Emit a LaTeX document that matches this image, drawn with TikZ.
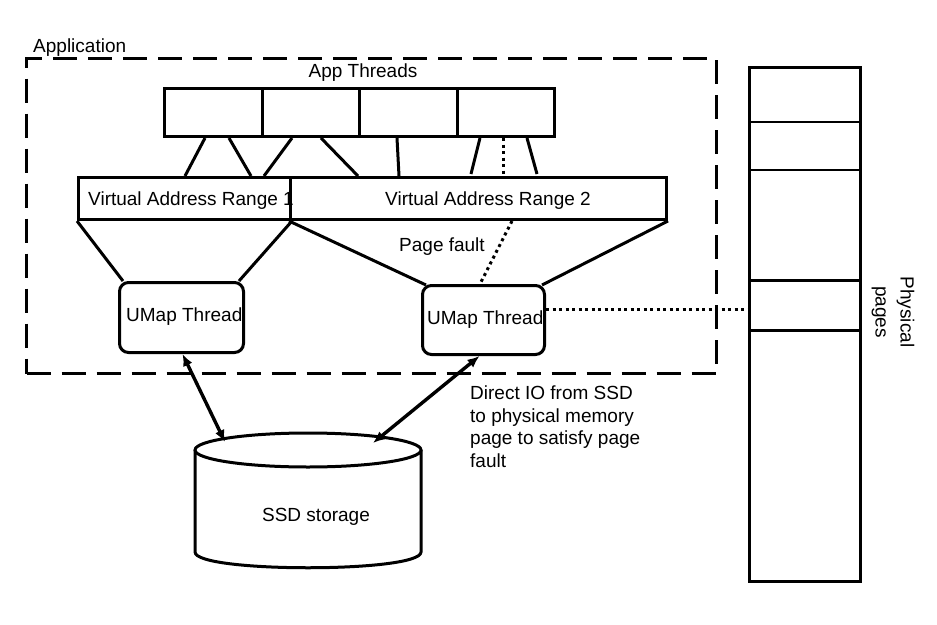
\documentclass[tikz,border=0pt]{standalone}
\usepackage{fontspec}
\setmainfont{Liberation Sans}
\usetikzlibrary{calc,arrows.meta}
\begin{document}
\begin{tikzpicture}[x=1pt,y=-1pt,
  txt/.style={font=\fontsize{19}{22.5}\selectfont, inner sep=0pt},
  boxnode/.style={draw, line width=3pt, fill=white, inner sep=0pt, anchor=north west},
  umapbox/.style={boxnode, rounded corners=9pt},
  appframe/.style={draw, line width=3pt, dash pattern=on 24pt off 11pt, inner sep=0pt, anchor=north west},
  link/.style={line width=3pt},
  dotlink/.style={line width=3pt, dash pattern=on 3pt off 3.5pt},
  ioarrow/.style={line width=3.4pt, {Latex[length=12pt,width=10pt]}-{Latex[length=12pt,width=10pt]}},
  shape line/.style={line width=3pt}
]
\useasboundingbox (0,0) rectangle (937,624);

% Application frame
\node[appframe, minimum width=690pt, minimum height=315pt] (app) at (25,57) {};
\node[txt, anchor=base west] (applbl) at (33,52) {Application};

% App threads
\node[txt, anchor=base] (threadslbl) at (363,77) {App Threads};
\node[boxnode, minimum width=97.5pt, minimum height=48pt] (t1) at (163,87) {};
\node[boxnode, minimum width=97.5pt, minimum height=48pt] (t2) at (260.5,87) {};
\node[boxnode, minimum width=97.5pt, minimum height=48pt] (t3) at (358,87) {};
\node[boxnode, minimum width=97.5pt, minimum height=48pt] (t4) at (455.5,87) {};

% Virtual address ranges
\node[boxnode, minimum width=212pt, minimum height=42pt] (v1) at (77,176) {};
\node[boxnode, minimum width=376pt, minimum height=42pt] (v2) at (289,176) {};

% UMap threads
\node[umapbox, minimum width=124pt, minimum height=70pt] (u1) at (118,281) {};
\node[umapbox, minimum width=122pt, minimum height=69pt] (u2) at (421,284) {};

% Threads to ranges
\draw[link] ($(t1.south west)+(42,0)$) -- ($(v1.north west)+(108,0)$);
\draw[link] ($(t1.south west)+(66,0)$) -- ($(v1.north west)+(174,0)$);
\draw[link] ($(t2.south west)+(31.5,0)$) -- ($(v1.north west)+(187,0)$);
\draw[link] ($(t2.south west)+(60.5,0)$) -- ($(v2.north west)+(69,0)$);
\draw[link] ($(t3.south west)+(39,0)$) -- ($(v2.north west)+(110,0)$);
\draw[link] ($(t4.south west)+(24.5,0)$) -- ($(v2.north west)+(182,-2)$);
\draw[dotlink] ($(t4.south west)+(47.5,0)$) -- ($(v2.north west)+(214,-2)$);
\draw[link] ($(t4.south west)+(71.5,0)$) -- ($(v2.north west)+(248,-2)$);

% Ranges to UMap threads
\draw[link] (v1.south west) -- ($(u1.north west)+(5,0)$);
\draw[link] (v1.south east) -- ($(u1.north east)+(-6,0)$);
\draw[link] (v2.south west) -- ($(u2.north west)+(5,1)$);
\draw[link] (v2.south east) -- ($(u2.north east)+(-4,1)$);
\draw[dotlink] ($(v2.south west)+(223,0)$) -- ($(u2.north west)+(59,0)$);

% Texts in boxes
\node[txt, anchor=base west] (v1lbl) at (88,205) {Virtual Address Range 1};
\node[txt, anchor=base] (v2lbl) at (488,205) {Virtual Address Range 2};
\node[txt, anchor=base west] (pflbl) at (399,251) {Page fault};
\node[txt, anchor=base west] (u1lbl) at (126,321) {UMap Thread};
\node[txt, anchor=base west] (u2lbl) at (427,324) {UMap Thread};

% Physical pages
\node[boxnode, minimum width=111pt, minimum height=514pt] (pp) at (748,66) {};
\draw[shape line, line width=2.5pt] ($(pp.north west)+(0,56)$) -- ($(pp.north east)+(0,56)$);
\draw[shape line, line width=2.5pt] ($(pp.north west)+(0,104)$) -- ($(pp.north east)+(0,104)$);
\draw[shape line] ($(pp.north west)+(0,214)$) -- ($(pp.north east)+(-3,214)$);
\draw[shape line] ($(pp.north west)+(0,264)$) -- ($(pp.north east)+(-3,264)$);
\node[txt, rotate=-90, align=center, font=\fontsize{19}{25}\selectfont] (pplbl) at (893,312) {Physical\\pages};
\draw[dotlink] ($(u2.north east)+(0,25)$) -- ($(pp.north west)+(0,243)$);

% SSD storage cylinder
\draw[shape line, fill=white] (195,450) -- (195,552) .. controls (195,573) and (421,573) .. (421,552) -- (421,450);
\draw[shape line, fill=white] (308,450) ellipse [x radius=113, y radius=17];
\node[txt] (ssd) at (316,517) {SSD storage};
\coordinate (c1) at (225,442);
\coordinate (c2) at (373,443);

% IO arrows
\draw[ioarrow] ($(u1.south)+(1,0)$) -- (c1);
\draw[ioarrow] ($(u2.south)+(-4,0)$) -- (c2);

\node[txt, anchor=north west, align=left] (iolbl) at (470,386) {Direct IO from SSD\\to physical memory\\page to satisfy page\\fault};
\end{tikzpicture}
\end{document}
